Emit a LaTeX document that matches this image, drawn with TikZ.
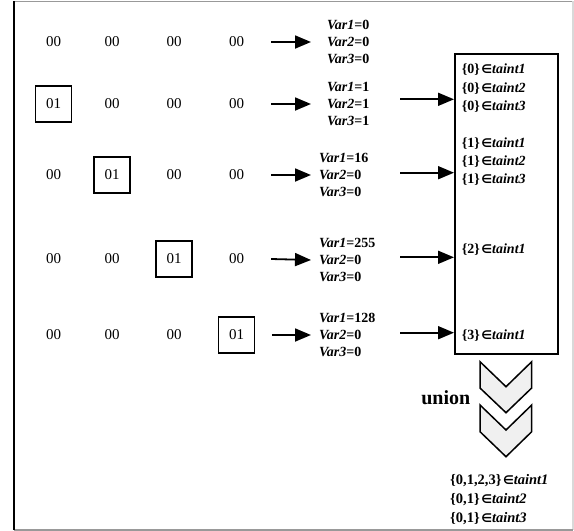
\documentclass[tikz,border=0pt]{standalone}
\usepackage{fontspec}
\setmainfont{Liberation Serif}
\newfontfamily\symfont{DejaVu Sans}
\usetikzlibrary{arrows.meta,positioning}
\newcommand{\elem}{\kern1.5pt{\symfont\bfseries\large ∈}}
\newcommand{\tnt}[1]{\textit{taint#1}}
\newcommand{\vset}[2]{\textit{Var#1}=#2}

\begin{document}
\begin{tikzpicture}[x=1pt,y=-1pt,>={Triangle[length=16pt,width=13pt]},
  cell/.style={font=\fontsize{15}{18}\selectfont,minimum size=36pt,inner sep=0pt},
  hit/.style={cell,draw,line width=1.6pt},
  vars/.style={font=\fontsize{14}{17.3}\selectfont\bfseries,align=left,inner sep=0pt,anchor=west},
  taints/.style={font=\fontsize{14}{18.3}\selectfont\bfseries,align=left,inner sep=0pt,anchor=west},
  flow/.style={->,line width=1.8pt},
  chev/.style={draw,fill=gray!12,line width=1.5pt,line join=miter}]
  \useasboundingbox (0,0) rectangle (574,531);
  % frame
  \draw[gray!80,line width=1pt] (14,1) -- (573,1);
  \draw[gray!30,line width=1.5pt] (573,1) -- (573,530);
  \draw[gray!80,line width=1.5pt] (14,530) -- (573,530);
  \draw[line width=1.2pt] (14,1) -- (14,530);

  % input bytes, one marked byte per row
  \foreach \r/\y in {1/42,2/104,3/175,4/259,5/335}
    \foreach \c/\x in {1/53.5,2/112,3/174,4/236.5} {
      \ifnum\numexpr\r-1\relax=\c
        \node[hit] (c\r\c) at (\x,\y) {01};
      \else
        \node[cell] (c\r\c) at (\x,\y) {00};
      \fi
    }

  \node[vars] (v1) at (327,42) {\vset{1}{0}\\\vset{2}{0}\\\vset{3}{0}};
  \node[vars] (v2) at (327,104) {\vset{1}{1}\\\vset{2}{1}\\\vset{3}{1}};
  \node[vars] (v3) at (319,175) {\vset{1}{16}\\\vset{2}{0}\\\vset{3}{0}};
  \node[vars] (v4) at (319,260) {\vset{1}{255}\\\vset{2}{0}\\\vset{3}{0}};
  \node[vars] (v5) at (319,335) {\vset{1}{128}\\\vset{2}{0}\\\vset{3}{0}};

  \foreach \r/\gap in {1/16,2/16,3/8,4/8,5/8}
    \draw[flow] ([xshift=16.5pt]c\r4.east) -- ([xshift=-\gap pt]v\r.west);

  % taint sets
  \node[draw,line width=2pt,minimum width=102.7pt,minimum height=300.6pt,anchor=north west] (box) at (454,52.7) {};
  \node[taints] (g0) at (461.7,88.3) {\{0\}\elem\tnt{1}\\\{0\}\elem\tnt{2}\\\{0\}\elem\tnt{3}};
  \node[taints] (g1) at (461.7,161.7) {\{1\}\elem\tnt{1}\\\{1\}\elem\tnt{2}\\\{1\}\elem\tnt{3}};
  \node[taints] (g2) at (461.7,250) {\{2\}\elem\tnt{1}};
  \node[taints] (g3) at (461.7,336) {\{3\}\elem\tnt{1}};

  \foreach \r/\ya in {2/99.3,3/172.7,4/257.3,5/332.7} {
    \coordinate (s\r) at (400,\ya);
    \draw[flow] (s\r) -- (s\r -| box.west);
  }

  % union
  \draw[chev] (480,361.7) -- (506,386.7) -- (531.7,361.7) -- (531.7,388) -- (506,412.7) -- (480,388) -- cycle;
  \draw[chev] (480,405) -- (506,430) -- (531.7,405) -- (531.7,431.7) -- (506,456.7) -- (480,431.7) -- cycle;
  \node[font=\fontsize{20}{24}\selectfont\bfseries] (un) at (445.8,398) {union};

  \node[taints,font=\fontsize{14.5}{19.2}\selectfont\bfseries] (res) at (450,499.3)
    {\{0,1,2,3\}\elem\tnt{1}\\\{0,1\}\elem\tnt{2}\\\{0,1\}\elem\tnt{3}};
\end{tikzpicture}
\end{document}
